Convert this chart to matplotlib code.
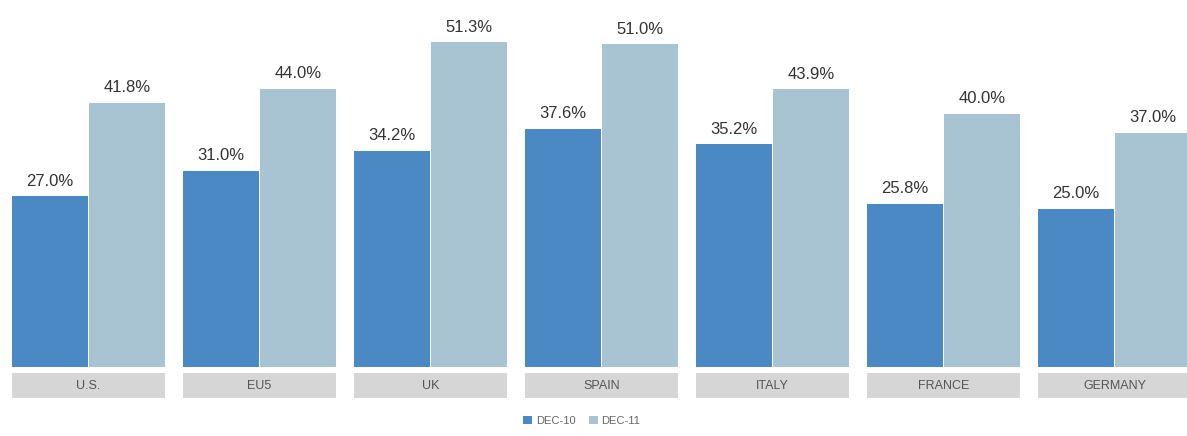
import matplotlib.pyplot as plt
from matplotlib.patches import Rectangle
import numpy as np

countries = ['U.S.', 'EU5', 'UK', 'SPAIN', 'ITALY', 'FRANCE', 'GERMANY']
dec10 = [27.0, 31.0, 34.2, 37.6, 35.2, 25.8, 25.0]
dec11 = [41.8, 44.0, 51.3, 51.0, 43.9, 40.0, 37.0]
series = ['DEC-10', 'DEC-11']

dark = '#4a89c3'
light = '#a8c4d3'
box = '#d6d6d6'

plt.rcParams['font.family'] = ['Liberation Sans', 'DejaVu Sans']

fig = plt.figure(figsize=(11.87, 4.36), dpi=100)
ax = fig.add_axes([0, 69 / 436, 1, 367 / 436])

x = np.arange(len(countries))
w = 0.44
b1 = ax.bar(x - 0.225, dec10, w, color=dark, label=series[0])
b2 = ax.bar(x + 0.225, dec11, w, color=light, label=series[1])

for bars, vals in ((b1, dec10), (b2, dec11)):
    for r, v in zip(bars, vals):
        ax.text(r.get_x() + r.get_width() / 2, v + 1.2, f'{v:.1f}%',
                ha='center', va='bottom', fontsize=12, color='#333333')

# category boxes under the bars
for i, c in enumerate(countries):
    ax.add_patch(Rectangle((i - 0.447, -4.9), 0.894, 3.95, facecolor=box,
                           edgecolor='none', clip_on=False))
    ax.text(i, -2.95, c, ha='center', va='center', fontsize=9,
            color='#555555', clip_on=False)

ax.set_xlim(-0.5175, 6.424)
ax.set_ylim(0, 58.0)
ax.axis('off')

fig.legend(loc='center', bbox_to_anchor=(0.49, 0.035), ncol=2, frameon=False,
           fontsize=8, handlelength=0.8, handleheight=0.8, handletextpad=0.3,
           columnspacing=1.2, labelcolor='#666666')

plt.savefig('out.png')
